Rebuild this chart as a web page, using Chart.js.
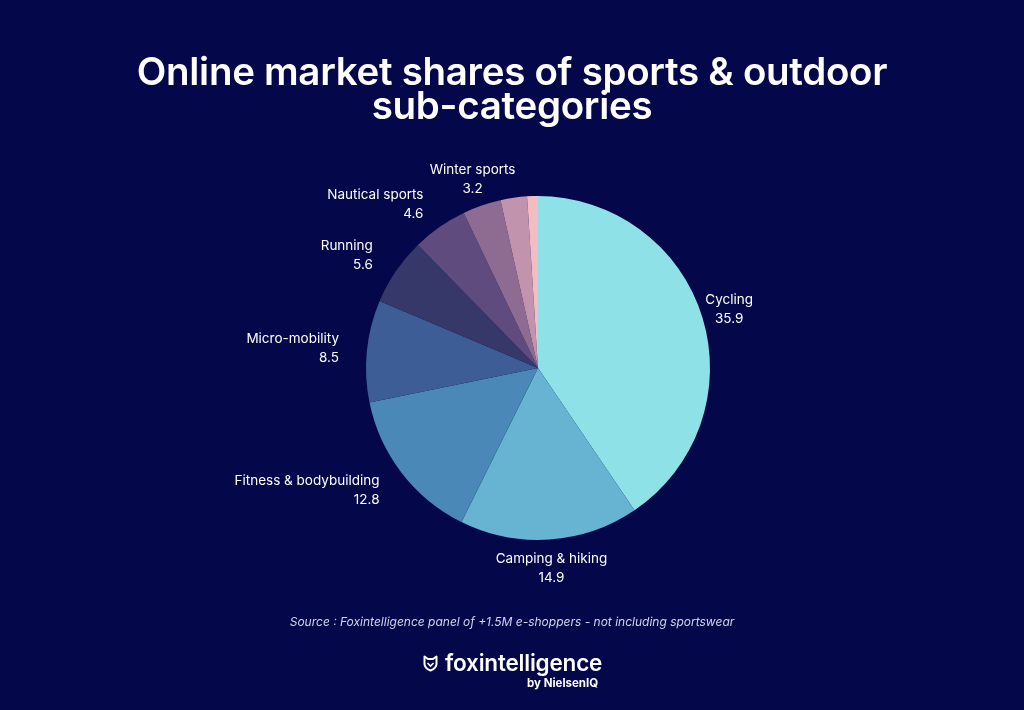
<!DOCTYPE html>
<html>
<head>
<meta charset="utf-8">
<title>Online market shares of sports & outdoor sub-categories</title>
<script src="https://cdn.jsdelivr.net/npm/chart.js@4/dist/chart.umd.min.js"></script>
<style>
  html, body { margin: 0; padding: 0; }
  body {
    width: 1024px; height: 710px; overflow: hidden;
    background: #04074a;
    font-family: Inter, "DejaVu Sans", sans-serif;
    position: relative;
  }
  #chartWrap { position: absolute; left: 0; top: 0; width: 1024px; height: 710px; }
  #title {
    position: absolute; left: 0; top: 54px; width: 1024px;
    text-align: center; color: #ffffff;
    font-size: 38.5px; font-weight: 600; line-height: 34px; letter-spacing: -0.3px;
  }
  #source {
    position: absolute; left: 0; top: 614px; width: 1024px;
    text-align: center; color: #d4d6ea;
    font-size: 12px; font-style: italic;
  }
  #logo { position: absolute; left: 423px; top: 651px; color: #ffffff; }
  #logo .name { position: absolute; left: 22px; top: -2px; font-size: 22.5px; font-weight: 600; white-space: nowrap; letter-spacing: -0.2px; }
  #logo .by { position: absolute; left: 104px; top: 25px; font-size: 11.5px; font-weight: 700; white-space: nowrap; }
  #logo svg { position: absolute; left: 0; top: 4px; }
</style>
</head>
<body>
<div id="chartWrap"><canvas id="pieChart" width="1024" height="710"></canvas></div>
<div id="title">Online market shares of sports &amp; outdoor<br>sub-categories</div>
<div id="source">Source : Foxintelligence panel of +1.5M e-shoppers - not including sportswear</div>
<div id="logo">
  <svg width="15" height="17" viewBox="0 0 15 17">
    <path d="M1.5 1.5 L5 4 L10 4 L13.5 1.5 L13.5 9 Q13.5 13 7.5 15.5 Q1.5 13 1.5 9 Z" fill="none" stroke="#fff" stroke-width="2" stroke-linejoin="round"/>
    <path d="M4.5 8 L7.5 11 L10.5 8" fill="none" stroke="#fff" stroke-width="1.6"/>
  </svg>
  <span class="name">foxintelligence</span>
  <span class="by">by NielsenIQ</span>
</div>
<script>
// categories in drawing order, clockwise from the top
const categories = [
    'Cycling',
    'Camping & hiking',
    'Fitness & bodybuilding',
    'Micro-mobility',
    'Running',
    'Nautical sports',
    'Winter sports',
    '',   // small slice, not labelled in the original
    ''    // small slice, not labelled in the original
];
const shares = [35.9, 14.9, 12.8, 8.5, 5.6, 4.6, 3.2, 2.2, 0.9];
const sliceColors = [
    '#8fe1e8', '#67b4d2', '#4a88b8', '#3d5d96', '#37386a',
    '#5f4b7e', '#8e6c92', '#c293ac', '#f3bcc3'
];

// Draw the name + value labels just outside each slice
const outsideLabels = {
    id: 'outsideLabels',
    afterDatasetsDraw(chart) {
        const ctx = chart.ctx;
        const meta = chart.getDatasetMeta(0);
        ctx.save();
        ctx.fillStyle = '#ffffff';
        ctx.font = '13.5px Inter, "DejaVu Sans", sans-serif';
        ctx.textBaseline = 'middle';
        meta.data.forEach((arc, i) => {
            if (!categories[i]) return;
            const p = arc.getProps(['x', 'y', 'startAngle', 'endAngle', 'outerRadius'], true);
            const mid = (p.startAngle + p.endAngle) / 2;
            const ux = Math.cos(mid);
            const uy = Math.sin(mid);
            const r = p.outerRadius + 28;
            const ax = p.x + ux * r;
            const ay = p.y + uy * r;
            ctx.textAlign = ux < -0.5 ? 'right' : 'center';
            ctx.fillText(categories[i], ax, ay - 9);
            ctx.fillText(String(shares[i]), ax, ay + 10);
        });
        ctx.restore();
    }
};

new Chart(document.getElementById('pieChart').getContext('2d'), {
    type: 'pie',
    data: {
        labels: categories,
        datasets: [{
            data: shares,
            backgroundColor: sliceColors,
            borderWidth: 0
        }]
    },
    options: {
        responsive: false,
        animation: false,
        layout: {
            padding: { top: 196, bottom: 170, left: 200, right: 148 }
        },
        plugins: {
            legend: { display: false },
            tooltip: { enabled: false },
            title: { display: false }
        }
    },
    plugins: [outsideLabels]
});
</script>
</body>
</html>
